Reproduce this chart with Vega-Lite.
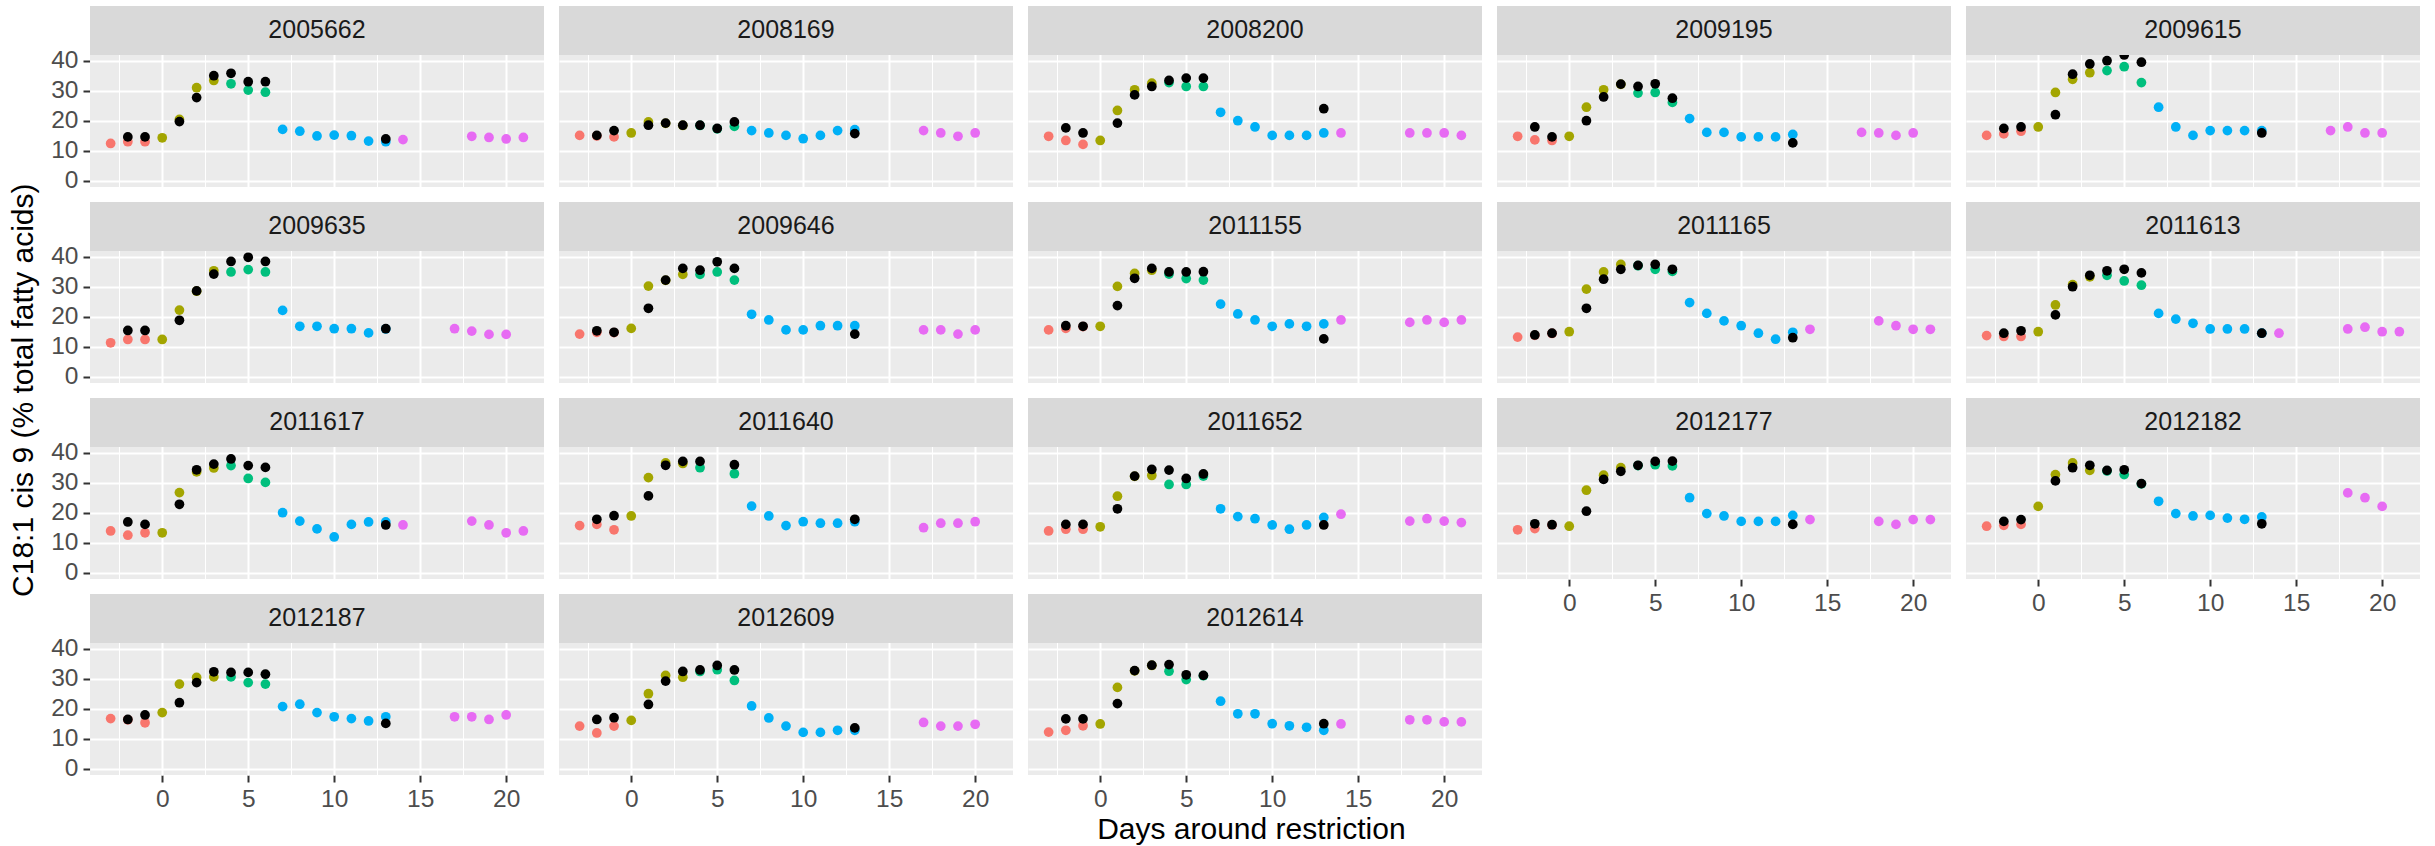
{
"$schema": "https://vega.github.io/schema/vega-lite/v6.json",
"padding": {"left": 8, "top": 5, "right": 5, "bottom": 5},
"background": "white",
"title": {"text": "Days around restriction", "orient": "bottom", "anchor": "middle", "fontSize": 30, "font": "Liberation Sans", "fontWeight": "normal", "color": "black", "offset": 4, "dx": 37},
"datasets": {"fa": [
{"cow":"2005662","day":-3,"phase":"pre","value":12.5},
{"cow":"2005662","day":-2,"phase":"pre","value":13.1,"value2":14.7},
{"cow":"2005662","day":-1,"phase":"pre","value":13.1,"value2":14.7},
{"cow":"2005662","day":0,"phase":"early","value":14.4},
{"cow":"2005662","day":1,"phase":"early","value":20.5,"value2":19.8},
{"cow":"2005662","day":2,"phase":"early","value":31.1,"value2":27.8},
{"cow":"2005662","day":3,"phase":"early","value":33.5,"value2":35.1},
{"cow":"2005662","day":4,"phase":"restr","value":32.4,"value2":35.9},
{"cow":"2005662","day":5,"phase":"restr","value":30.3,"value2":33.1},
{"cow":"2005662","day":6,"phase":"restr","value":29.6,"value2":33.1},
{"cow":"2005662","day":7,"phase":"recov","value":17.2},
{"cow":"2005662","day":8,"phase":"recov","value":16.6},
{"cow":"2005662","day":9,"phase":"recov","value":15.0},
{"cow":"2005662","day":10,"phase":"recov","value":15.3},
{"cow":"2005662","day":11,"phase":"recov","value":15.1},
{"cow":"2005662","day":12,"phase":"recov","value":13.3},
{"cow":"2005662","day":13,"phase":"recov","value":13.1,"value2":14.0},
{"cow":"2005662","day":14,"phase":"post","value":13.8},
{"cow":"2005662","day":18,"phase":"post","value":14.9},
{"cow":"2005662","day":19,"phase":"post","value":14.5},
{"cow":"2005662","day":20,"phase":"post","value":14.0},
{"cow":"2005662","day":21,"phase":"post","value":14.5},
{"cow":"2008169","day":-3,"phase":"pre","value":15.2},
{"cow":"2008169","day":-2,"phase":"pre","value":15.0,"value2":15.2},
{"cow":"2008169","day":-1,"phase":"pre","value":14.7,"value2":16.8},
{"cow":"2008169","day":0,"phase":"early","value":16.0},
{"cow":"2008169","day":1,"phase":"early","value":19.7,"value2":18.6},
{"cow":"2008169","day":2,"phase":"early","value":19.2,"value2":19.3},
{"cow":"2008169","day":3,"phase":"early","value":18.5,"value2":18.6},
{"cow":"2008169","day":4,"phase":"restr","value":18.5,"value2":18.6},
{"cow":"2008169","day":5,"phase":"restr","value":17.4,"value2":17.5},
{"cow":"2008169","day":6,"phase":"restr","value":18.2,"value2":19.7},
{"cow":"2008169","day":7,"phase":"recov","value":16.8},
{"cow":"2008169","day":8,"phase":"recov","value":16.0},
{"cow":"2008169","day":9,"phase":"recov","value":15.2},
{"cow":"2008169","day":10,"phase":"recov","value":14.1},
{"cow":"2008169","day":11,"phase":"recov","value":15.2},
{"cow":"2008169","day":12,"phase":"recov","value":16.8},
{"cow":"2008169","day":13,"phase":"recov","value":17.1,"value2":15.8},
{"cow":"2008169","day":17,"phase":"post","value":16.8},
{"cow":"2008169","day":18,"phase":"post","value":16.0},
{"cow":"2008169","day":19,"phase":"post","value":14.9},
{"cow":"2008169","day":20,"phase":"post","value":16.0},
{"cow":"2008200","day":-3,"phase":"pre","value":14.9},
{"cow":"2008200","day":-2,"phase":"pre","value":13.5,"value2":17.7},
{"cow":"2008200","day":-1,"phase":"pre","value":12.2,"value2":16.0},
{"cow":"2008200","day":0,"phase":"early","value":13.5},
{"cow":"2008200","day":1,"phase":"early","value":23.5,"value2":19.3},
{"cow":"2008200","day":2,"phase":"early","value":30.4,"value2":28.7},
{"cow":"2008200","day":3,"phase":"early","value":32.6,"value2":31.5},
{"cow":"2008200","day":4,"phase":"restr","value":32.8,"value2":33.5},
{"cow":"2008200","day":5,"phase":"restr","value":31.5,"value2":34.3},
{"cow":"2008200","day":6,"phase":"restr","value":31.5,"value2":34.3},
{"cow":"2008200","day":7,"phase":"recov","value":22.9},
{"cow":"2008200","day":8,"phase":"recov","value":20.1},
{"cow":"2008200","day":9,"phase":"recov","value":18.0},
{"cow":"2008200","day":10,"phase":"recov","value":15.2},
{"cow":"2008200","day":11,"phase":"recov","value":15.2},
{"cow":"2008200","day":12,"phase":"recov","value":15.2},
{"cow":"2008200","day":13,"phase":"recov","value":16.0,"value2":24.1},
{"cow":"2008200","day":14,"phase":"post","value":16.0},
{"cow":"2008200","day":18,"phase":"post","value":16.0},
{"cow":"2008200","day":19,"phase":"post","value":16.0},
{"cow":"2008200","day":20,"phase":"post","value":16.0},
{"cow":"2008200","day":21,"phase":"post","value":15.2},
{"cow":"2009195","day":-3,"phase":"pre","value":14.9},
{"cow":"2009195","day":-2,"phase":"pre","value":13.7,"value2":18.0},
{"cow":"2009195","day":-1,"phase":"pre","value":13.5,"value2":14.7},
{"cow":"2009195","day":0,"phase":"early","value":14.9},
{"cow":"2009195","day":1,"phase":"early","value":24.6,"value2":20.1},
{"cow":"2009195","day":2,"phase":"early","value":30.4,"value2":28.0},
{"cow":"2009195","day":3,"phase":"early","value":32.2,"value2":32.3},
{"cow":"2009195","day":4,"phase":"restr","value":29.3,"value2":31.5},
{"cow":"2009195","day":5,"phase":"restr","value":29.5,"value2":32.4},
{"cow":"2009195","day":6,"phase":"restr","value":26.2,"value2":27.6},
{"cow":"2009195","day":7,"phase":"recov","value":20.8},
{"cow":"2009195","day":8,"phase":"recov","value":16.2},
{"cow":"2009195","day":9,"phase":"recov","value":16.2},
{"cow":"2009195","day":10,"phase":"recov","value":14.7},
{"cow":"2009195","day":11,"phase":"recov","value":14.7},
{"cow":"2009195","day":12,"phase":"recov","value":14.7},
{"cow":"2009195","day":13,"phase":"recov","value":15.5,"value2":12.7},
{"cow":"2009195","day":17,"phase":"post","value":16.2},
{"cow":"2009195","day":18,"phase":"post","value":16.0},
{"cow":"2009195","day":19,"phase":"post","value":15.2},
{"cow":"2009195","day":20,"phase":"post","value":16.0},
{"cow":"2009615","day":-3,"phase":"pre","value":15.2},
{"cow":"2009615","day":-2,"phase":"pre","value":15.7,"value2":17.5},
{"cow":"2009615","day":-1,"phase":"pre","value":16.6,"value2":18.0},
{"cow":"2009615","day":0,"phase":"early","value":18.0},
{"cow":"2009615","day":1,"phase":"early","value":29.5,"value2":22.1},
{"cow":"2009615","day":2,"phase":"early","value":33.9,"value2":35.6},
{"cow":"2009615","day":3,"phase":"early","value":36.1,"value2":39.0},
{"cow":"2009615","day":4,"phase":"restr","value":36.8,"value2":40.1},
{"cow":"2009615","day":5,"phase":"restr","value":38.1,"value2":42.0},
{"cow":"2009615","day":6,"phase":"restr","value":32.8,"value2":39.6},
{"cow":"2009615","day":7,"phase":"recov","value":24.6},
{"cow":"2009615","day":8,"phase":"recov","value":18.0},
{"cow":"2009615","day":9,"phase":"recov","value":15.2},
{"cow":"2009615","day":10,"phase":"recov","value":16.8},
{"cow":"2009615","day":11,"phase":"recov","value":16.8},
{"cow":"2009615","day":12,"phase":"recov","value":16.8},
{"cow":"2009615","day":13,"phase":"recov","value":16.8,"value2":16.0},
{"cow":"2009615","day":17,"phase":"post","value":16.8},
{"cow":"2009615","day":18,"phase":"post","value":18.0},
{"cow":"2009615","day":19,"phase":"post","value":16.0},
{"cow":"2009615","day":20,"phase":"post","value":16.0},
{"cow":"2009635","day":-3,"phase":"pre","value":11.4},
{"cow":"2009635","day":-2,"phase":"pre","value":12.5,"value2":15.5},
{"cow":"2009635","day":-1,"phase":"pre","value":12.5,"value2":15.5},
{"cow":"2009635","day":0,"phase":"early","value":12.5},
{"cow":"2009635","day":1,"phase":"early","value":22.3,"value2":18.9},
{"cow":"2009635","day":2,"phase":"early","value":28.6,"value2":28.7},
{"cow":"2009635","day":3,"phase":"early","value":35.4,"value2":34.3},
{"cow":"2009635","day":4,"phase":"restr","value":35.0,"value2":38.5},
{"cow":"2009635","day":5,"phase":"restr","value":35.8,"value2":39.9},
{"cow":"2009635","day":6,"phase":"restr","value":35.0,"value2":38.5},
{"cow":"2009635","day":7,"phase":"recov","value":22.2},
{"cow":"2009635","day":8,"phase":"recov","value":16.9},
{"cow":"2009635","day":9,"phase":"recov","value":16.9},
{"cow":"2009635","day":10,"phase":"recov","value":16.1},
{"cow":"2009635","day":11,"phase":"recov","value":16.1},
{"cow":"2009635","day":12,"phase":"recov","value":14.7},
{"cow":"2009635","day":13,"phase":"recov","value":16.0,"value2":16.1},
{"cow":"2009635","day":17,"phase":"post","value":16.1},
{"cow":"2009635","day":18,"phase":"post","value":15.3},
{"cow":"2009635","day":19,"phase":"post","value":14.2},
{"cow":"2009635","day":20,"phase":"post","value":14.2},
{"cow":"2009646","day":-3,"phase":"pre","value":14.3},
{"cow":"2009646","day":-2,"phase":"pre","value":14.9,"value2":15.4},
{"cow":"2009646","day":-1,"phase":"pre","value":14.8,"value2":14.9},
{"cow":"2009646","day":0,"phase":"early","value":16.2},
{"cow":"2009646","day":1,"phase":"early","value":30.3,"value2":22.9},
{"cow":"2009646","day":2,"phase":"early","value":32.2,"value2":32.3},
{"cow":"2009646","day":3,"phase":"early","value":34.2,"value2":36.2},
{"cow":"2009646","day":4,"phase":"restr","value":34.2,"value2":35.6},
{"cow":"2009646","day":5,"phase":"restr","value":35.0,"value2":38.4},
{"cow":"2009646","day":6,"phase":"restr","value":32.3,"value2":36.2},
{"cow":"2009646","day":7,"phase":"recov","value":20.9},
{"cow":"2009646","day":8,"phase":"recov","value":19.0},
{"cow":"2009646","day":9,"phase":"recov","value":15.7},
{"cow":"2009646","day":10,"phase":"recov","value":15.7},
{"cow":"2009646","day":11,"phase":"recov","value":17.1},
{"cow":"2009646","day":12,"phase":"recov","value":17.1},
{"cow":"2009646","day":13,"phase":"recov","value":17.1,"value2":14.3},
{"cow":"2009646","day":17,"phase":"post","value":15.7},
{"cow":"2009646","day":18,"phase":"post","value":15.7},
{"cow":"2009646","day":19,"phase":"post","value":14.3},
{"cow":"2009646","day":20,"phase":"post","value":15.7},
{"cow":"2011155","day":-3,"phase":"pre","value":15.7},
{"cow":"2011155","day":-2,"phase":"pre","value":16.2,"value2":17.1},
{"cow":"2011155","day":-1,"phase":"pre","value":16.8,"value2":16.9},
{"cow":"2011155","day":0,"phase":"early","value":16.9},
{"cow":"2011155","day":1,"phase":"early","value":30.2,"value2":23.8},
{"cow":"2011155","day":2,"phase":"early","value":34.5,"value2":32.9},
{"cow":"2011155","day":3,"phase":"early","value":35.6,"value2":36.2},
{"cow":"2011155","day":4,"phase":"restr","value":34.3,"value2":35.0},
{"cow":"2011155","day":5,"phase":"restr","value":32.8,"value2":35.0},
{"cow":"2011155","day":6,"phase":"restr","value":32.3,"value2":35.1},
{"cow":"2011155","day":7,"phase":"recov","value":24.3},
{"cow":"2011155","day":8,"phase":"recov","value":21.0},
{"cow":"2011155","day":9,"phase":"recov","value":19.0},
{"cow":"2011155","day":10,"phase":"recov","value":16.9},
{"cow":"2011155","day":11,"phase":"recov","value":17.7},
{"cow":"2011155","day":12,"phase":"recov","value":16.9},
{"cow":"2011155","day":13,"phase":"recov","value":17.7,"value2":12.7},
{"cow":"2011155","day":14,"phase":"post","value":19.0},
{"cow":"2011155","day":18,"phase":"post","value":18.2},
{"cow":"2011155","day":19,"phase":"post","value":19.0},
{"cow":"2011155","day":20,"phase":"post","value":18.2},
{"cow":"2011155","day":21,"phase":"post","value":19.0},
{"cow":"2011165","day":-3,"phase":"pre","value":13.3},
{"cow":"2011165","day":-2,"phase":"pre","value":13.9,"value2":14.0},
{"cow":"2011165","day":-1,"phase":"pre","value":14.5,"value2":14.6},
{"cow":"2011165","day":0,"phase":"early","value":15.1},
{"cow":"2011165","day":1,"phase":"early","value":29.3,"value2":22.9},
{"cow":"2011165","day":2,"phase":"early","value":35.0,"value2":32.6},
{"cow":"2011165","day":3,"phase":"early","value":37.5,"value2":35.9},
{"cow":"2011165","day":4,"phase":"restr","value":37.1,"value2":37.2},
{"cow":"2011165","day":5,"phase":"restr","value":35.9,"value2":37.5},
{"cow":"2011165","day":6,"phase":"restr","value":35.2,"value2":35.9},
{"cow":"2011165","day":7,"phase":"recov","value":24.8},
{"cow":"2011165","day":8,"phase":"recov","value":21.2},
{"cow":"2011165","day":9,"phase":"recov","value":18.7},
{"cow":"2011165","day":10,"phase":"recov","value":17.1},
{"cow":"2011165","day":11,"phase":"recov","value":14.6},
{"cow":"2011165","day":12,"phase":"recov","value":12.6},
{"cow":"2011165","day":13,"phase":"recov","value":14.9,"value2":13.1},
{"cow":"2011165","day":14,"phase":"post","value":15.9},
{"cow":"2011165","day":18,"phase":"post","value":18.7},
{"cow":"2011165","day":19,"phase":"post","value":17.1},
{"cow":"2011165","day":20,"phase":"post","value":15.9},
{"cow":"2011165","day":21,"phase":"post","value":15.9},
{"cow":"2011613","day":-3,"phase":"pre","value":13.8},
{"cow":"2011613","day":-2,"phase":"pre","value":13.5,"value2":14.6},
{"cow":"2011613","day":-1,"phase":"pre","value":13.5,"value2":15.4},
{"cow":"2011613","day":0,"phase":"early","value":15.1},
{"cow":"2011613","day":1,"phase":"early","value":24.0,"value2":20.7},
{"cow":"2011613","day":2,"phase":"early","value":30.8,"value2":30.1},
{"cow":"2011613","day":3,"phase":"early","value":33.4,"value2":33.9},
{"cow":"2011613","day":4,"phase":"restr","value":33.9,"value2":35.4},
{"cow":"2011613","day":5,"phase":"restr","value":32.0,"value2":35.9},
{"cow":"2011613","day":6,"phase":"restr","value":30.6,"value2":34.7},
{"cow":"2011613","day":7,"phase":"recov","value":21.2},
{"cow":"2011613","day":8,"phase":"recov","value":19.3},
{"cow":"2011613","day":9,"phase":"recov","value":17.9},
{"cow":"2011613","day":10,"phase":"recov","value":16.0},
{"cow":"2011613","day":11,"phase":"recov","value":16.0},
{"cow":"2011613","day":12,"phase":"recov","value":16.0},
{"cow":"2011613","day":13,"phase":"recov","value":14.6,"value2":14.6},
{"cow":"2011613","day":14,"phase":"post","value":14.6},
{"cow":"2011613","day":18,"phase":"post","value":16.0},
{"cow":"2011613","day":19,"phase":"post","value":16.6},
{"cow":"2011613","day":20,"phase":"post","value":15.1},
{"cow":"2011613","day":21,"phase":"post","value":15.1},
{"cow":"2011617","day":-3,"phase":"pre","value":14.0},
{"cow":"2011617","day":-2,"phase":"pre","value":12.6,"value2":17.0},
{"cow":"2011617","day":-1,"phase":"pre","value":13.4,"value2":16.2},
{"cow":"2011617","day":0,"phase":"early","value":13.4},
{"cow":"2011617","day":1,"phase":"early","value":26.8,"value2":22.9},
{"cow":"2011617","day":2,"phase":"early","value":33.7,"value2":34.4},
{"cow":"2011617","day":3,"phase":"early","value":35.0,"value2":36.3},
{"cow":"2011617","day":4,"phase":"restr","value":35.8,"value2":38.0},
{"cow":"2011617","day":5,"phase":"restr","value":31.5,"value2":35.8},
{"cow":"2011617","day":6,"phase":"restr","value":30.2,"value2":35.2},
{"cow":"2011617","day":7,"phase":"recov","value":20.1},
{"cow":"2011617","day":8,"phase":"recov","value":17.3},
{"cow":"2011617","day":9,"phase":"recov","value":14.7},
{"cow":"2011617","day":10,"phase":"recov","value":12.0},
{"cow":"2011617","day":11,"phase":"recov","value":16.2},
{"cow":"2011617","day":12,"phase":"recov","value":17.0},
{"cow":"2011617","day":13,"phase":"recov","value":17.0,"value2":16.0},
{"cow":"2011617","day":14,"phase":"post","value":16.0},
{"cow":"2011617","day":18,"phase":"post","value":17.3},
{"cow":"2011617","day":19,"phase":"post","value":16.0},
{"cow":"2011617","day":20,"phase":"post","value":13.4},
{"cow":"2011617","day":21,"phase":"post","value":14.0},
{"cow":"2011640","day":-3,"phase":"pre","value":15.8},
{"cow":"2011640","day":-2,"phase":"pre","value":16.2,"value2":17.9},
{"cow":"2011640","day":-1,"phase":"pre","value":14.4,"value2":19.1},
{"cow":"2011640","day":0,"phase":"early","value":19.0},
{"cow":"2011640","day":1,"phase":"early","value":31.8,"value2":25.7},
{"cow":"2011640","day":2,"phase":"early","value":36.7,"value2":35.9},
{"cow":"2011640","day":3,"phase":"early","value":36.5,"value2":37.2},
{"cow":"2011640","day":4,"phase":"restr","value":35.1,"value2":37.2},
{"cow":"2011640","day":6,"phase":"restr","value":33.1,"value2":36.1},
{"cow":"2011640","day":7,"phase":"recov","value":22.3},
{"cow":"2011640","day":8,"phase":"recov","value":19.0},
{"cow":"2011640","day":9,"phase":"recov","value":15.8},
{"cow":"2011640","day":10,"phase":"recov","value":17.1},
{"cow":"2011640","day":11,"phase":"recov","value":16.6},
{"cow":"2011640","day":12,"phase":"recov","value":16.6},
{"cow":"2011640","day":13,"phase":"recov","value":17.1,"value2":17.9},
{"cow":"2011640","day":17,"phase":"post","value":15.1},
{"cow":"2011640","day":18,"phase":"post","value":16.6},
{"cow":"2011640","day":19,"phase":"post","value":16.6},
{"cow":"2011640","day":20,"phase":"post","value":17.1},
{"cow":"2011652","day":-3,"phase":"pre","value":14.0},
{"cow":"2011652","day":-2,"phase":"pre","value":14.6,"value2":16.2},
{"cow":"2011652","day":-1,"phase":"pre","value":14.6,"value2":16.2},
{"cow":"2011652","day":0,"phase":"early","value":15.4},
{"cow":"2011652","day":1,"phase":"early","value":25.6,"value2":21.4},
{"cow":"2011652","day":2,"phase":"early","value":32.2,"value2":32.3},
{"cow":"2011652","day":3,"phase":"early","value":32.5,"value2":34.5},
{"cow":"2011652","day":4,"phase":"restr","value":29.5,"value2":34.3},
{"cow":"2011652","day":5,"phase":"restr","value":29.5,"value2":31.5},
{"cow":"2011652","day":6,"phase":"restr","value":32.3,"value2":33.0},
{"cow":"2011652","day":7,"phase":"recov","value":21.4},
{"cow":"2011652","day":8,"phase":"recov","value":18.8},
{"cow":"2011652","day":9,"phase":"recov","value":18.1},
{"cow":"2011652","day":10,"phase":"recov","value":16.0},
{"cow":"2011652","day":11,"phase":"recov","value":14.6},
{"cow":"2011652","day":12,"phase":"recov","value":16.0},
{"cow":"2011652","day":13,"phase":"recov","value":18.5,"value2":16.0},
{"cow":"2011652","day":14,"phase":"post","value":19.6},
{"cow":"2011652","day":18,"phase":"post","value":17.3},
{"cow":"2011652","day":19,"phase":"post","value":18.1},
{"cow":"2011652","day":20,"phase":"post","value":17.3},
{"cow":"2011652","day":21,"phase":"post","value":16.8},
{"cow":"2012177","day":-3,"phase":"pre","value":14.4},
{"cow":"2012177","day":-2,"phase":"pre","value":14.8,"value2":16.4},
{"cow":"2012177","day":-1,"phase":"pre","value":16.0,"value2":16.1},
{"cow":"2012177","day":0,"phase":"early","value":15.6},
{"cow":"2012177","day":1,"phase":"early","value":27.6,"value2":20.6},
{"cow":"2012177","day":2,"phase":"early","value":32.6,"value2":31.2},
{"cow":"2012177","day":3,"phase":"early","value":35.1,"value2":33.9},
{"cow":"2012177","day":4,"phase":"restr","value":35.8,"value2":35.9},
{"cow":"2012177","day":5,"phase":"restr","value":36.1,"value2":37.2},
{"cow":"2012177","day":6,"phase":"restr","value":35.7,"value2":37.3},
{"cow":"2012177","day":7,"phase":"recov","value":25.1},
{"cow":"2012177","day":8,"phase":"recov","value":19.8},
{"cow":"2012177","day":9,"phase":"recov","value":19.0},
{"cow":"2012177","day":10,"phase":"recov","value":17.2},
{"cow":"2012177","day":11,"phase":"recov","value":17.2},
{"cow":"2012177","day":12,"phase":"recov","value":17.2},
{"cow":"2012177","day":13,"phase":"recov","value":19.2,"value2":16.2},
{"cow":"2012177","day":14,"phase":"post","value":17.8},
{"cow":"2012177","day":18,"phase":"post","value":17.2},
{"cow":"2012177","day":19,"phase":"post","value":16.2},
{"cow":"2012177","day":20,"phase":"post","value":17.8},
{"cow":"2012177","day":21,"phase":"post","value":17.8},
{"cow":"2012182","day":-3,"phase":"pre","value":15.6},
{"cow":"2012182","day":-2,"phase":"pre","value":15.9,"value2":17.2},
{"cow":"2012182","day":-1,"phase":"pre","value":16.2,"value2":17.8},
{"cow":"2012182","day":0,"phase":"early","value":22.2},
{"cow":"2012182","day":1,"phase":"early","value":32.8,"value2":30.7},
{"cow":"2012182","day":2,"phase":"early","value":36.7,"value2":35.1},
{"cow":"2012182","day":3,"phase":"early","value":34.2,"value2":35.9},
{"cow":"2012182","day":4,"phase":"restr","value":34.0,"value2":34.2},
{"cow":"2012182","day":5,"phase":"restr","value":32.8,"value2":34.4},
{"cow":"2012182","day":6,"phase":"restr","value":29.7,"value2":29.8},
{"cow":"2012182","day":7,"phase":"recov","value":23.9},
{"cow":"2012182","day":8,"phase":"recov","value":19.8},
{"cow":"2012182","day":9,"phase":"recov","value":19.0},
{"cow":"2012182","day":10,"phase":"recov","value":19.2},
{"cow":"2012182","day":11,"phase":"recov","value":18.3},
{"cow":"2012182","day":12,"phase":"recov","value":17.9},
{"cow":"2012182","day":13,"phase":"recov","value":18.7,"value2":16.4},
{"cow":"2012182","day":18,"phase":"post","value":26.7},
{"cow":"2012182","day":19,"phase":"post","value":25.1},
{"cow":"2012182","day":20,"phase":"post","value":22.2},
{"cow":"2012187","day":-3,"phase":"pre","value":16.8},
{"cow":"2012187","day":-2,"phase":"pre","value":16.4,"value2":16.5},
{"cow":"2012187","day":-1,"phase":"pre","value":15.4,"value2":18.0},
{"cow":"2012187","day":0,"phase":"early","value":18.8},
{"cow":"2012187","day":1,"phase":"early","value":28.3,"value2":22.1},
{"cow":"2012187","day":2,"phase":"early","value":30.5,"value2":28.8},
{"cow":"2012187","day":3,"phase":"early","value":30.7,"value2":32.4},
{"cow":"2012187","day":4,"phase":"restr","value":30.7,"value2":32.2},
{"cow":"2012187","day":5,"phase":"restr","value":28.8,"value2":32.2},
{"cow":"2012187","day":6,"phase":"restr","value":28.3,"value2":31.6},
{"cow":"2012187","day":7,"phase":"recov","value":20.8},
{"cow":"2012187","day":8,"phase":"recov","value":21.6},
{"cow":"2012187","day":9,"phase":"recov","value":18.8},
{"cow":"2012187","day":10,"phase":"recov","value":17.4},
{"cow":"2012187","day":11,"phase":"recov","value":16.8},
{"cow":"2012187","day":12,"phase":"recov","value":16.0},
{"cow":"2012187","day":13,"phase":"recov","value":17.4,"value2":15.2},
{"cow":"2012187","day":17,"phase":"post","value":17.4},
{"cow":"2012187","day":18,"phase":"post","value":17.4},
{"cow":"2012187","day":19,"phase":"post","value":16.5},
{"cow":"2012187","day":20,"phase":"post","value":18.0},
{"cow":"2012609","day":-3,"phase":"pre","value":14.3},
{"cow":"2012609","day":-2,"phase":"pre","value":12.0,"value2":16.5},
{"cow":"2012609","day":-1,"phase":"pre","value":14.3,"value2":17.1},
{"cow":"2012609","day":0,"phase":"early","value":16.2},
{"cow":"2012609","day":1,"phase":"early","value":25.1,"value2":21.5},
{"cow":"2012609","day":2,"phase":"early","value":31.2,"value2":29.3},
{"cow":"2012609","day":3,"phase":"early","value":30.6,"value2":32.5},
{"cow":"2012609","day":4,"phase":"restr","value":32.5,"value2":33.0},
{"cow":"2012609","day":5,"phase":"restr","value":33.1,"value2":34.5},
{"cow":"2012609","day":6,"phase":"restr","value":29.5,"value2":33.0},
{"cow":"2012609","day":7,"phase":"recov","value":21.0},
{"cow":"2012609","day":8,"phase":"recov","value":17.0},
{"cow":"2012609","day":9,"phase":"recov","value":14.3},
{"cow":"2012609","day":10,"phase":"recov","value":12.2},
{"cow":"2012609","day":11,"phase":"recov","value":12.2},
{"cow":"2012609","day":12,"phase":"recov","value":12.9},
{"cow":"2012609","day":13,"phase":"recov","value":12.9,"value2":13.7},
{"cow":"2012609","day":17,"phase":"post","value":15.5},
{"cow":"2012609","day":18,"phase":"post","value":14.3},
{"cow":"2012609","day":19,"phase":"post","value":14.3},
{"cow":"2012609","day":20,"phase":"post","value":14.9},
{"cow":"2012614","day":-3,"phase":"pre","value":12.3},
{"cow":"2012614","day":-2,"phase":"pre","value":12.9,"value2":16.7},
{"cow":"2012614","day":-1,"phase":"pre","value":14.4,"value2":16.7},
{"cow":"2012614","day":0,"phase":"early","value":15.0},
{"cow":"2012614","day":1,"phase":"early","value":27.2,"value2":21.8},
{"cow":"2012614","day":2,"phase":"early","value":32.7,"value2":32.8},
{"cow":"2012614","day":3,"phase":"early","value":34.5,"value2":34.6},
{"cow":"2012614","day":4,"phase":"restr","value":32.6,"value2":34.8},
{"cow":"2012614","day":5,"phase":"restr","value":29.8,"value2":31.4},
{"cow":"2012614","day":6,"phase":"restr","value":31.1,"value2":31.2},
{"cow":"2012614","day":7,"phase":"recov","value":22.6},
{"cow":"2012614","day":8,"phase":"recov","value":18.4},
{"cow":"2012614","day":9,"phase":"recov","value":18.4},
{"cow":"2012614","day":10,"phase":"recov","value":15.1},
{"cow":"2012614","day":11,"phase":"recov","value":14.4},
{"cow":"2012614","day":12,"phase":"recov","value":13.9},
{"cow":"2012614","day":13,"phase":"recov","value":12.9,"value2":15.1},
{"cow":"2012614","day":14,"phase":"post","value":15.0},
{"cow":"2012614","day":18,"phase":"post","value":16.4},
{"cow":"2012614","day":19,"phase":"post","value":16.4},
{"cow":"2012614","day":20,"phase":"post","value":15.7},
{"cow":"2012614","day":21,"phase":"post","value":15.7}
]},
"data": {"name": "fa"},
"spacing": 15,
"hconcat": [
{
  "title": {"text": "C18:1 cis 9 (% total fatty acids)", "orient": "left", "anchor": "middle", "fontSize": 30, "font": "Liberation Sans", "fontWeight": "normal", "color": "black", "offset": 12, "dx": 18},
  "transform": [{"filter": {"field": "cow", "oneOf": ["2005662","2008169","2008200","2009635","2009646","2011155","2011617","2011640","2011652","2012187","2012609","2012614"]}}],
  "columns": 3,
  "spacing": {"row": 14, "column": 15},
  "facet": {"field": "cow", "type": "nominal", "header": {"title": null, "labelExpr": "''", "labelFontSize": 0.1, "labelPadding": 0}},
  "spec": {
    "width": 454,
    "height": 181,
    "layer": [
      {
        "mark": {"type": "circle", "size": 95, "opacity": 1},
        "encoding": {
          "x": {"field": "day", "type": "quantitative", "scale": {"domain": [-4.2, 22.2], "nice": false, "zero": false},
                "axis": {"title": null, "values": [-2.5, 0, 2.5, 5, 7.5, 10, 12.5, 15, 17.5, 20],
                         "labelExpr": "datum.value % 5 === 0 ? datum.label : ''",
                         "tickOpacity": {"condition": {"test": "datum.value % 5 === 0", "value": 1}, "value": 0},
                         "gridWidth": {"condition": {"test": "datum.value % 5 === 0", "value": 2}, "value": 1},
                         "gridColor": "white", "domain": false, "tickSize": 7, "tickWidth": 2, "tickColor": "#333333",
                         "labelFontSize": 24.5, "labelFont": "Liberation Sans", "labelColor": "#4D4D4D", "labelPadding": 5,
                         "labelFlush": false, "labelOverlap": false}},
          "y": {"field": "value", "type": "quantitative", "scale": {"domain": [-2, 58.33], "nice": false, "zero": false},
                "axis": {"title": null, "values": [0, 5, 10, 15, 20, 25, 30, 35, 40],
                         "labelExpr": "datum.value % 10 === 0 ? datum.label : ''",
                         "tickOpacity": {"condition": {"test": "datum.value % 10 === 0", "value": 1}, "value": 0},
                         "gridWidth": {"condition": {"test": "datum.value % 10 === 0", "value": 2}, "value": 1},
                         "gridColor": "white", "domain": false, "tickSize": 7, "tickWidth": 2, "tickColor": "#333333",
                         "labelFontSize": 24.5, "labelFont": "Liberation Sans", "labelColor": "#4D4D4D", "labelPadding": 5,
                         "labelFlush": false, "labelOverlap": false}},
          "color": {"field": "phase", "type": "nominal", "legend": null,
                    "scale": {"domain": ["pre", "early", "restr", "recov", "post"], "range": ["#F8766D", "#A3A500", "#00BF7D", "#00B0F6", "#E76BF3"]}}
        }
      },
      {
        "transform": [{"filter": "isValid(datum.value2)"}],
        "mark": {"type": "circle", "size": 95, "opacity": 1, "color": "black"},
        "encoding": {
          "x": {"field": "day", "type": "quantitative"},
          "y": {"field": "value2", "type": "quantitative"}
        }
      },
      {
        "transform": [{"aggregate": [{"op": "count", "as": "n"}], "groupby": ["cow"]}],
        "layer": [
          {
            "mark": {"type": "rect", "color": "#D9D9D9", "opacity": 1},
            "encoding": {
              "x": {"datum": -4.2, "type": "quantitative"},
              "x2": {"datum": 22.2},
              "y": {"datum": 42, "type": "quantitative"},
              "y2": {"datum": 58.33}
            }
          },
          {
            "mark": {"type": "text", "fontSize": 25, "font": "Liberation Sans", "color": "#1A1A1A", "align": "center", "baseline": "middle"},
            "encoding": {
              "x": {"datum": 9, "type": "quantitative"},
              "y": {"datum": 50.2, "type": "quantitative"},
              "text": {"field": "cow", "type": "nominal"}
            }
          }
        ]
      }
    ]
  }
},
{
  "transform": [{"filter": {"field": "cow", "oneOf": ["2009195","2009615","2011165","2011613","2012177","2012182"]}}],
  "columns": 2,
  "spacing": {"row": 14, "column": 15},
  "facet": {"field": "cow", "type": "nominal", "header": {"title": null, "labelExpr": "''", "labelFontSize": 0.1, "labelPadding": 0}},
  "spec": {
    "width": 454,
    "height": 181,
    "layer": [
      {
        "mark": {"type": "circle", "size": 95, "opacity": 1},
        "encoding": {
          "x": {"field": "day", "type": "quantitative", "scale": {"domain": [-4.2, 22.2], "nice": false, "zero": false},
                "axis": {"title": null, "values": [-2.5, 0, 2.5, 5, 7.5, 10, 12.5, 15, 17.5, 20],
                         "labelExpr": "datum.value % 5 === 0 ? datum.label : ''",
                         "tickOpacity": {"condition": {"test": "datum.value % 5 === 0", "value": 1}, "value": 0},
                         "gridWidth": {"condition": {"test": "datum.value % 5 === 0", "value": 2}, "value": 1},
                         "gridColor": "white", "domain": false, "tickSize": 7, "tickWidth": 2, "tickColor": "#333333",
                         "labelFontSize": 24.5, "labelFont": "Liberation Sans", "labelColor": "#4D4D4D", "labelPadding": 5,
                         "labelFlush": false, "labelOverlap": false}},
          "y": {"field": "value", "type": "quantitative", "scale": {"domain": [-2, 58.33], "nice": false, "zero": false},
                "axis": {"title": null, "values": [0, 5, 10, 15, 20, 25, 30, 35, 40],
                         "labels": false, "ticks": false,
                         "gridWidth": {"condition": {"test": "datum.value % 10 === 0", "value": 2}, "value": 1},
                         "gridColor": "white", "domain": false}},
          "color": {"field": "phase", "type": "nominal", "legend": null,
                    "scale": {"domain": ["pre", "early", "restr", "recov", "post"], "range": ["#F8766D", "#A3A500", "#00BF7D", "#00B0F6", "#E76BF3"]}}
        }
      },
      {
        "transform": [{"filter": "isValid(datum.value2)"}],
        "mark": {"type": "circle", "size": 95, "opacity": 1, "color": "black"},
        "encoding": {
          "x": {"field": "day", "type": "quantitative"},
          "y": {"field": "value2", "type": "quantitative"}
        }
      },
      {
        "transform": [{"aggregate": [{"op": "count", "as": "n"}], "groupby": ["cow"]}],
        "layer": [
          {
            "mark": {"type": "rect", "color": "#D9D9D9", "opacity": 1},
            "encoding": {
              "x": {"datum": -4.2, "type": "quantitative"},
              "x2": {"datum": 22.2},
              "y": {"datum": 42, "type": "quantitative"},
              "y2": {"datum": 58.33}
            }
          },
          {
            "mark": {"type": "text", "fontSize": 25, "font": "Liberation Sans", "color": "#1A1A1A", "align": "center", "baseline": "middle"},
            "encoding": {
              "x": {"datum": 9, "type": "quantitative"},
              "y": {"datum": 50.2, "type": "quantitative"},
              "text": {"field": "cow", "type": "nominal"}
            }
          }
        ]
      }
    ]
  }
}
],
"config": {"view": {"fill": "#EBEBEB", "stroke": null}, "axis": {"grid": true}, "header": {"labels": false}}
}
